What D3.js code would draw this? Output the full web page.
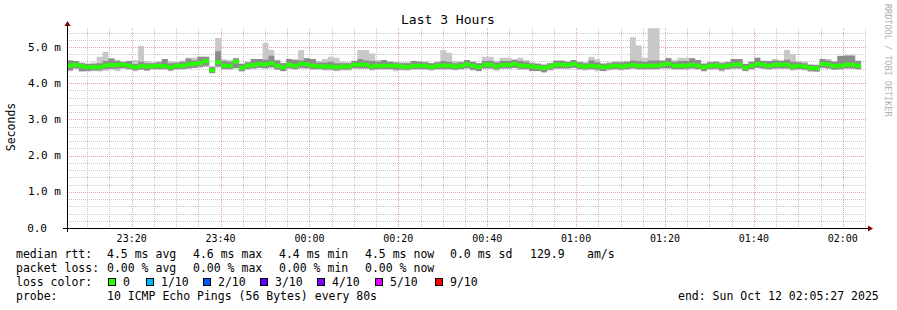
<!DOCTYPE html>
<html>
<head>
<meta charset="utf-8">
<script src="https://cdn.jsdelivr.net/npm/d3@7"></script>
<style>
  body { margin: 0; background: #fff; }
  svg text { font-family: "DejaVu Sans Mono", monospace; white-space: pre; }
</style>
</head>
<body>
<svg id="chart"></svg>
<script>
// smokeping style graph, last 3 hours, 80s steps
w = 897;
h = 310;
plotLeft = 67;
plotRight = 867;
plotTop = 28;
plotBottom = 228;

var startTime = new Date(2025, 9, 11, 23, 5, 27);
var endTime = new Date(2025, 9, 12, 2, 5, 27);
var stepSec = 80;

// median rtt (ms) per step
var medianRtt = [4.49,4.51,4.47,4.44,4.45,4.44,4.49,4.50,4.50,4.52,4.48,4.44,4.47,4.46,4.47,4.48,4.47,4.44,4.48,4.48,
  4.52,4.54,4.56,4.61,4.36,4.58,4.48,4.48,4.60,4.43,4.48,4.50,4.53,4.52,4.55,4.48,4.44,4.51,4.48,4.53,
  4.52,4.48,4.47,4.46,4.46,4.44,4.46,4.46,4.52,4.51,4.51,4.46,4.48,4.48,4.48,4.48,4.46,4.45,4.48,4.48,
  4.48,4.45,4.48,4.49,4.48,4.46,4.48,4.52,4.48,4.45,4.51,4.51,4.46,4.50,4.50,4.53,4.49,4.48,4.46,4.44,
  4.42,4.46,4.51,4.51,4.50,4.53,4.48,4.46,4.48,4.47,4.44,4.46,4.48,4.46,4.48,4.50,4.48,4.48,4.48,4.48,
  4.52,4.53,4.48,4.48,4.49,4.50,4.48,4.44,4.48,4.49,4.46,4.48,4.51,4.52,4.43,4.48,4.53,4.51,4.48,4.51,
  4.51,4.51,4.46,4.48,4.46,4.42,4.41,4.53,4.51,4.48,4.48,4.51,4.51,4.48];
// fastest ping per step
var pingMin = [4.33,4.39,4.32,4.32,4.33,4.32,4.34,4.37,4.34,4.39,4.37,4.33,4.37,4.34,4.37,4.37,4.37,4.33,4.37,4.37,
  4.39,4.41,4.42,4.45,4.27,4.43,4.37,4.37,4.42,4.33,4.37,4.39,4.41,4.39,4.41,4.37,4.33,4.39,4.37,4.40,
  4.39,4.37,4.37,4.35,4.35,4.33,4.35,4.35,4.39,4.39,4.39,4.35,4.37,4.37,4.37,4.33,4.35,4.35,4.37,4.37,
  4.37,4.35,4.37,4.37,4.37,4.35,4.37,4.39,4.35,4.33,4.39,4.39,4.35,4.39,4.39,4.41,4.37,4.37,4.33,4.33,
  4.29,4.35,4.39,4.39,4.39,4.41,4.37,4.35,4.37,4.33,4.33,4.35,4.37,4.35,4.37,4.39,4.37,4.37,4.37,4.37,
  4.39,4.39,4.37,4.37,4.37,4.39,4.37,4.32,4.37,4.37,4.32,4.37,4.39,4.39,4.33,4.37,4.41,4.39,4.37,4.39,
  4.39,4.39,4.35,4.37,4.35,4.32,4.31,4.41,4.39,4.37,4.37,4.39,4.39,4.37];
// slowest ping per step
var pingMax = [4.64,4.61,4.57,4.55,4.57,4.73,4.87,4.68,4.65,4.60,4.62,4.64,5.03,4.61,4.58,4.60,4.67,4.61,4.58,4.63,
  4.70,4.70,4.73,4.73,4.47,5.25,4.66,4.64,4.69,4.55,4.60,4.67,4.67,5.12,4.92,4.65,4.56,4.67,4.65,4.92,
  4.69,4.67,4.61,4.67,4.73,4.70,4.60,4.58,4.62,4.92,4.92,4.82,4.64,4.64,4.60,4.58,4.58,4.58,4.62,4.60,
  4.60,4.56,4.59,4.92,4.84,4.61,4.60,4.64,4.60,4.56,4.73,4.73,4.62,4.70,4.70,4.66,4.70,4.64,4.58,4.56,
  4.52,4.56,4.64,4.64,4.60,4.64,4.60,4.58,4.73,4.66,4.56,4.58,4.61,4.61,4.61,5.27,5.04,4.70,5.52,5.52,
  4.64,4.70,4.64,4.70,4.70,4.69,4.64,4.56,4.59,4.60,4.58,4.60,4.67,4.67,4.54,4.60,4.70,4.63,4.62,4.67,
  4.64,4.92,4.80,4.61,4.60,4.52,4.52,4.67,4.67,4.61,4.76,4.78,4.78,4.63];
// inner smoke band (darker)
var smokeLo = [4.36,4.41,4.33,4.34,4.36,4.36,4.39,4.40,4.40,4.42,4.39,4.36,4.38,4.36,4.39,4.39,4.39,4.36,4.39,4.39,
  4.41,4.43,4.46,4.48,4.28,4.46,4.39,4.39,4.41,4.33,4.39,4.41,4.43,4.42,4.44,4.38,4.34,4.41,4.39,4.43,
  4.42,4.39,4.39,4.38,4.38,4.36,4.38,4.38,4.42,4.41,4.41,4.38,4.39,4.39,4.39,4.38,4.38,4.37,4.39,4.39,
  4.39,4.37,4.39,4.40,4.39,4.38,4.39,4.42,4.37,4.34,4.41,4.41,4.38,4.41,4.41,4.43,4.40,4.39,4.34,4.34,
  4.31,4.37,4.41,4.41,4.41,4.43,4.39,4.38,4.39,4.38,4.34,4.38,4.39,4.38,4.39,4.41,4.39,4.39,4.39,4.39,
  4.42,4.42,4.39,4.39,4.40,4.41,4.39,4.34,4.39,4.40,4.36,4.39,4.41,4.41,4.34,4.39,4.43,4.41,4.39,4.41,
  4.41,4.41,4.38,4.39,4.38,4.33,4.32,4.43,4.41,4.38,4.39,4.41,4.41,4.39];
var smokeHi = [4.63,4.61,4.55,4.53,4.53,4.55,4.61,4.68,4.61,4.59,4.61,4.53,4.59,4.55,4.55,4.58,4.67,4.55,4.57,4.59,
  4.68,4.63,4.73,4.73,4.45,4.88,4.61,4.59,4.69,4.53,4.57,4.67,4.67,4.65,4.76,4.63,4.55,4.67,4.65,4.63,
  4.69,4.67,4.57,4.57,4.59,4.55,4.55,4.55,4.61,4.67,4.63,4.61,4.59,4.64,4.59,4.57,4.55,4.55,4.61,4.59,
  4.58,4.55,4.58,4.61,4.59,4.55,4.58,4.64,4.59,4.55,4.61,4.61,4.57,4.61,4.61,4.64,4.61,4.59,4.55,4.53,
  4.51,4.55,4.61,4.61,4.59,4.64,4.58,4.55,4.63,4.58,4.53,4.55,4.58,4.57,4.59,4.63,4.61,4.59,4.63,4.63,
  4.61,4.69,4.59,4.61,4.61,4.69,4.64,4.53,4.58,4.59,4.55,4.58,4.67,4.67,4.53,4.59,4.70,4.61,4.61,4.63,
  4.61,4.65,4.59,4.58,4.55,4.51,4.50,4.67,4.63,4.59,4.75,4.76,4.76,4.61];

var yTicks = [0, 1, 2, 3, 4, 5];

var lossLabels = ["0", "1/10", "2/10", "3/10", "4/10", "5/10", "9/10"];
var lossColors = ["#26ff00", "#00b8ff", "#0059ff", "#5e00ff", "#7e00ff", "#dd00ff", "#ff0000"];
var lossBoxX = [108, 146, 203, 260, 317, 375, 435];

var legendRows = [
  [[16, "median rtt:"], [107, "4.5 ms avg"], [193, "4.6 ms max"], [279, "4.4 ms min"], [365, "4.5 ms now"], [450, "0.0 ms sd"], [530, "129.9"], [587, "am/s"]],
  [[16, "packet loss:"], [107, "0.00 % avg"], [193, "0.00 % max"], [279, "0.00 % min"], [365, "0.00 % now"]],
  [[16, "loss color:"]],
  [[16, "probe:"], [107, "10 ICMP Echo Pings (56 Bytes) every 80s"], [678, "end: Sun Oct 12 02:05:27 2025"]]
];

var svg = d3.select('#chart').attr('width', w).attr('height', h);

var x = d3.scaleTime().domain([startTime, endTime]).range([plotLeft, plotRight]);
var y = d3.scaleLinear().domain([0, 5.525]).range([plotBottom, plotTop]);

var steps = medianRtt.map(function(m, i) {
  return {
    t: new Date(startTime.getTime() + i * stepSec * 1000),
    med: m, lo: pingMin[i], hi: pingMax[i], slo: smokeLo[i], shi: smokeHi[i]
  };
});
// extra point so the last step gets its width
var last = steps[steps.length - 1];
steps.push(Object.assign({}, last, { t: new Date(last.t.getTime() + stepSec * 1000) }));

// minor grid
var minorY = d3.range(0, 5.6, 0.2).filter(function(v) { return Math.abs(v - Math.round(v)) > 0.01; });
svg.append('g').selectAll('line').data(minorY).enter().append('line')
    .attr('x1', plotLeft).attr('x2', plotRight)
    .attr('y1', function(d) { return Math.round(y(d)) + 0.5; })
    .attr('y2', function(d) { return Math.round(y(d)) + 0.5; })
    .attr('stroke', '#c8c8c8').attr('stroke-dasharray', '1,1');
var minorX = d3.timeMinute.every(5).range(startTime, endTime)
    .filter(function(d) { return d.getMinutes() % 20 != 0; });
svg.append('g').selectAll('line').data(minorX).enter().append('line')
    .attr('x1', function(d) { return Math.round(x(d)) + 0.5; })
    .attr('x2', function(d) { return Math.round(x(d)) + 0.5; })
    .attr('y1', plotTop).attr('y2', plotBottom)
    .attr('stroke', '#c8c8c8').attr('stroke-dasharray', '1,1');

// major grid
svg.append('g').selectAll('line').data(yTicks.slice(1)).enter().append('line')
    .attr('x1', plotLeft).attr('x2', plotRight)
    .attr('y1', function(d) { return Math.round(y(d)) + 0.5; })
    .attr('y2', function(d) { return Math.round(y(d)) + 0.5; })
    .attr('stroke', '#e9a0a0').attr('stroke-dasharray', '1,1');
var majorX = d3.timeMinute.every(20).range(startTime, endTime);
svg.append('g').selectAll('line').data(majorX).enter().append('line')
    .attr('x1', function(d) { return Math.round(x(d)) + 0.5; })
    .attr('x2', function(d) { return Math.round(x(d)) + 0.5; })
    .attr('y1', plotTop).attr('y2', plotBottom)
    .attr('stroke', '#e9a0a0').attr('stroke-dasharray', '1,1');

// smoke
var outer = d3.area().curve(d3.curveStepAfter)
    .x(function(d) { return x(d.t); })
    .y0(function(d) { return y(d.lo); })
    .y1(function(d) { return y(d.hi); });
svg.append('path').datum(steps).attr('d', outer).attr('fill', '#c8c8c8');

var inner = d3.area().curve(d3.curveStepAfter)
    .x(function(d) { return x(d.t); })
    .y0(function(d) { return y(d.slo); })
    .y1(function(d) { return y(d.shi); });
svg.append('path').datum(steps).attr('d', inner).attr('fill', '#8c8c8c');

// median, coloured by loss (all 0 here)
var medBar = d3.area().curve(d3.curveStepAfter)
    .x(function(d) { return x(d.t); })
    .y0(function(d) { return y(d.med) + 2; })
    .y1(function(d) { return y(d.med) - 2; });
svg.append('path').datum(steps).attr('d', medBar).attr('fill', lossColors[0]);

// axes lines with arrows
svg.append('line').attr('x1', plotLeft - 4).attr('x2', plotRight + 1)
    .attr('y1', plotBottom + 0.5).attr('y2', plotBottom + 0.5)
    .attr('stroke', '#000').attr('stroke-width', 1);
svg.append('line').attr('x1', plotLeft + 0.5).attr('x2', plotLeft + 0.5)
    .attr('y1', plotBottom + 4).attr('y2', plotTop - 2)
    .attr('stroke', '#000').attr('stroke-width', 1);
svg.append('path').attr('d', 'M' + (plotRight + 1) + ' ' + (plotBottom - 2.5) + ' L' + (plotRight + 6) + ' ' + (plotBottom + 0.5) + ' L' + (plotRight + 1) + ' ' + (plotBottom + 3.5) + 'Z')
    .attr('fill', '#7f0000');
svg.append('path').attr('d', 'M' + (plotLeft - 2.5) + ' ' + (plotTop - 2) + ' L' + (plotLeft + 0.5) + ' ' + (plotTop - 7) + ' L' + (plotLeft + 3.5) + ' ' + (plotTop - 2) + 'Z')
    .attr('fill', '#7f0000');

// y labels
svg.append('g').selectAll('text').data(yTicks).enter().append('text')
    .attr('x', function(d) { return d == 0 ? 47 : 61; })
    .attr('y', function(d) { return y(d) + 3.5; })
    .attr('text-anchor', 'end')
    .attr('font-size', '11px')
    .attr('fill', '#000')
    .text(function(d) { return d == 0 ? d.toFixed(1) : d.toFixed(1) + ' m'; });

// x labels
var xFmt = d3.timeFormat('%H:%M');
svg.append('g').selectAll('text').data(majorX).enter().append('text')
    .attr('x', function(d) { return x(d); })
    .attr('y', 242)
    .attr('text-anchor', 'middle')
    .attr('font-size', '10px')
    .text(function(d) { return xFmt(d); });

// title, axis title, watermark
svg.append('text').attr('x', 448).attr('y', 24).attr('text-anchor', 'middle')
    .attr('font-size', '13px').text('Last 3 Hours');
svg.append('text').attr('transform', 'translate(15,127) rotate(-90)').attr('text-anchor', 'middle')
    .attr('font-size', '11.5px').text('Seconds');
svg.append('text').attr('transform', 'translate(885,4) rotate(90)')
    .attr('font-size', '8.5px').attr('fill', '#b0b0b0').text('RRDTOOL / TOBI OETIKER');

// legend
legendRows.forEach(function(row, r) {
  row.forEach(function(item) {
    svg.append('text').attr('x', item[0]).attr('y', 258 + r * 14)
        .attr('font-size', '11.5px').text(item[1]);
  });
});
lossLabels.forEach(function(lbl, i) {
  svg.append('rect').attr('x', lossBoxX[i] + 0.5).attr('y', 278.5).attr('width', 7).attr('height', 7)
      .attr('fill', lossColors[i]).attr('stroke', '#000').attr('stroke-width', 1);
  svg.append('text').attr('x', lossBoxX[i] + 15).attr('y', 286)
      .attr('font-size', '11.5px').text(lbl);
});
</script>
</body>
</html>
